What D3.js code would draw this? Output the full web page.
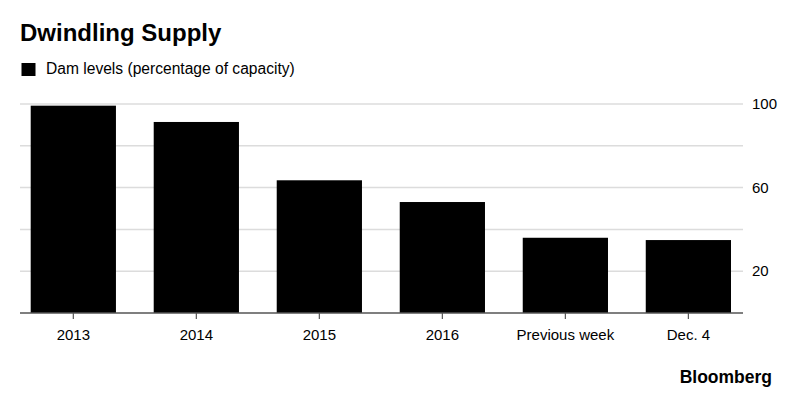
<!DOCTYPE html>
<html>
<head>
<meta charset="utf-8">
<script src="https://cdn.jsdelivr.net/npm/d3@7"></script>
<style>
  body { margin: 0; background: #fff; }
  text { font-family: "Liberation Sans", Arial, sans-serif; }
</style>
</head>
<body>
<div id="chart"></div>
<script>
// data
var categories = ['2013', '2014', '2015', '2016', 'Previous week', 'Dec. 4'];
var damLevels = [99.2, 91.4, 63.5, 53.1, 36.0, 34.9];
var yTicks = [20, 40, 60, 80, 100];
var yLabels = [20, 60, 100];

var width = 800, height = 397;

var svg = d3.select('#chart').append('svg')
  .attr('width', width)
  .attr('height', height);

var x = d3.scaleBand()
  .domain(categories)
  .range([30.7, 731])
  .paddingInner(0.307)
  .paddingOuter(0);

var y = d3.scaleLinear()
  .domain([0, 100])
  .range([313, 104]);

// title + legend
svg.append('text')
  .attr('x', 20).attr('y', 41)
  .attr('font-size', 24)
  .attr('font-weight', 'bold')
  .attr('fill', '#000')
  .text('Dwindling Supply');

svg.append('rect')
  .attr('x', 21.5).attr('y', 63)
  .attr('width', 14).attr('height', 13)
  .attr('fill', '#000');

svg.append('text')
  .attr('x', 46).attr('y', 74)
  .attr('font-size', 15.6)
  .attr('fill', '#000')
  .text('Dam levels (percentage of capacity)');

// grid
svg.append('g').selectAll('line')
  .data(yTicks)
  .enter().append('line')
  .attr('x1', 20).attr('x2', 743)
  .attr('y1', function (d) { return y(d); })
  .attr('y2', function (d) { return y(d); })
  .attr('stroke', '#dcdcdc')
  .attr('stroke-width', 1.5);

// y labels on the right
svg.append('g').selectAll('text')
  .data(yLabels)
  .enter().append('text')
  .attr('x', 752)
  .attr('y', function (d) { return y(d); })
  .attr('dy', '0.35em')
  .attr('font-size', 15)
  .attr('fill', '#000')
  .text(function (d) { return d; });

// bars
svg.append('g').selectAll('rect')
  .data(damLevels)
  .enter().append('rect')
  .attr('x', function (d, i) { return x(categories[i]); })
  .attr('y', function (d) { return y(d); })
  .attr('width', x.bandwidth())
  .attr('height', function (d) { return y(0) - y(d); })
  .attr('fill', '#000');

// baseline + x axis
var xAxis = d3.axisBottom(x).tickSize(6).tickSizeOuter(0).tickPadding(10);
var gx = svg.append('g')
  .attr('transform', 'translate(0,' + y(0) + ')')
  .call(xAxis);
gx.select('.domain').remove();
gx.selectAll('.tick line').attr('stroke', '#555').attr('stroke-width', 1.2);
gx.selectAll('.tick text')
  .attr('font-size', 15)
  .attr('fill', '#000')
  .style('font-family', '"Liberation Sans", Arial, sans-serif');

svg.append('line')
  .attr('x1', 20).attr('x2', 743)
  .attr('y1', y(0)).attr('y2', y(0))
  .attr('stroke', '#555')
  .attr('stroke-width', 1.5);

// logo
svg.append('text')
  .attr('x', 772).attr('y', 383)
  .attr('text-anchor', 'end')
  .attr('font-size', 17.5)
  .attr('font-weight', 'bold')
  .attr('fill', '#000')
  .text('Bloomberg');
</script>
</body>
</html>
